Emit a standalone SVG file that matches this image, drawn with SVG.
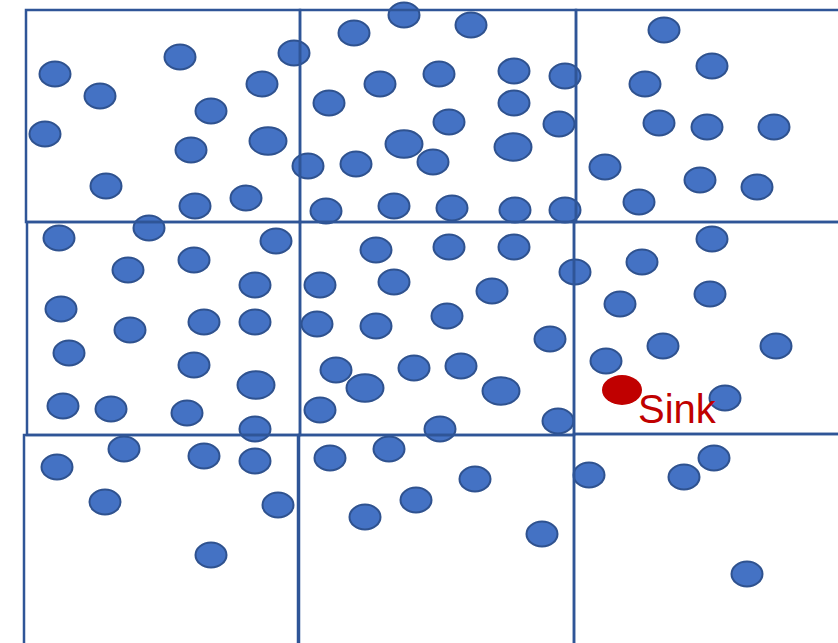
<svg xmlns="http://www.w3.org/2000/svg" width="838" height="643" viewBox="0 0 838 643">
<style>
.c{fill:#4472C4;stroke:#2F528F;stroke-width:2}
.g{fill:none;stroke:#2F5597;stroke-width:2.5}
.s{fill:#C00000}
.t{font-family:"Liberation Sans",Arial,sans-serif;font-size:40px;fill:#C00000}
</style>
<rect width="838" height="643" fill="#fff"/>
<g id="dots">
<ellipse class="c" cx="55" cy="74" rx="15.5" ry="12.5"/>
<ellipse class="c" cx="100" cy="96" rx="15.5" ry="12.5"/>
<ellipse class="c" cx="180" cy="57" rx="15.5" ry="12.5"/>
<ellipse class="c" cx="294" cy="53" rx="15.5" ry="12.5"/>
<ellipse class="c" cx="262" cy="84" rx="15.5" ry="12.5"/>
<ellipse class="c" cx="211" cy="111" rx="15.5" ry="12.5"/>
<ellipse class="c" cx="45" cy="134" rx="15.5" ry="12.5"/>
<ellipse class="c" cx="191" cy="150" rx="15.5" ry="12.5"/>
<ellipse class="c" cx="268" cy="141" rx="18.5" ry="13.7"/>
<ellipse class="c" cx="106" cy="186" rx="15.5" ry="12.5"/>
<ellipse class="c" cx="195" cy="206" rx="15.5" ry="12.5"/>
<ellipse class="c" cx="246" cy="198" rx="15.5" ry="12.5"/>
<ellipse class="c" cx="149" cy="228" rx="15.5" ry="12.5"/>
<ellipse class="c" cx="404" cy="15" rx="15.5" ry="12.5"/>
<ellipse class="c" cx="354" cy="33" rx="15.5" ry="12.5"/>
<ellipse class="c" cx="471" cy="25" rx="15.5" ry="12.5"/>
<ellipse class="c" cx="439" cy="74" rx="15.5" ry="12.5"/>
<ellipse class="c" cx="514" cy="71" rx="15.5" ry="12.5"/>
<ellipse class="c" cx="565" cy="76" rx="15.5" ry="12.5"/>
<ellipse class="c" cx="380" cy="84" rx="15.5" ry="12.5"/>
<ellipse class="c" cx="329" cy="103" rx="15.5" ry="12.5"/>
<ellipse class="c" cx="514" cy="103" rx="15.5" ry="12.5"/>
<ellipse class="c" cx="449" cy="122" rx="15.5" ry="12.5"/>
<ellipse class="c" cx="559" cy="124" rx="15.5" ry="12.5"/>
<ellipse class="c" cx="404" cy="144" rx="18.5" ry="13.7"/>
<ellipse class="c" cx="513" cy="147" rx="18.5" ry="13.7"/>
<ellipse class="c" cx="308" cy="166" rx="15.5" ry="12.5"/>
<ellipse class="c" cx="356" cy="164" rx="15.5" ry="12.5"/>
<ellipse class="c" cx="433" cy="162" rx="15.5" ry="12.5"/>
<ellipse class="c" cx="326" cy="211" rx="15.5" ry="12.5"/>
<ellipse class="c" cx="394" cy="206" rx="15.5" ry="12.5"/>
<ellipse class="c" cx="452" cy="208" rx="15.5" ry="12.5"/>
<ellipse class="c" cx="515" cy="210" rx="15.5" ry="12.5"/>
<ellipse class="c" cx="565" cy="210" rx="15.5" ry="12.5"/>
<ellipse class="c" cx="664" cy="30" rx="15.5" ry="12.5"/>
<ellipse class="c" cx="712" cy="66" rx="15.5" ry="12.5"/>
<ellipse class="c" cx="645" cy="84" rx="15.5" ry="12.5"/>
<ellipse class="c" cx="659" cy="123" rx="15.5" ry="12.5"/>
<ellipse class="c" cx="707" cy="127" rx="15.5" ry="12.5"/>
<ellipse class="c" cx="774" cy="127" rx="15.5" ry="12.5"/>
<ellipse class="c" cx="605" cy="167" rx="15.5" ry="12.5"/>
<ellipse class="c" cx="700" cy="180" rx="15.5" ry="12.5"/>
<ellipse class="c" cx="757" cy="187" rx="15.5" ry="12.5"/>
<ellipse class="c" cx="639" cy="202" rx="15.5" ry="12.5"/>
<ellipse class="c" cx="59" cy="238" rx="15.5" ry="12.5"/>
<ellipse class="c" cx="276" cy="241" rx="15.5" ry="12.5"/>
<ellipse class="c" cx="128" cy="270" rx="15.5" ry="12.5"/>
<ellipse class="c" cx="194" cy="260" rx="15.5" ry="12.5"/>
<ellipse class="c" cx="255" cy="285" rx="15.5" ry="12.5"/>
<ellipse class="c" cx="61" cy="309" rx="15.5" ry="12.5"/>
<ellipse class="c" cx="130" cy="330" rx="15.5" ry="12.5"/>
<ellipse class="c" cx="204" cy="322" rx="15.5" ry="12.5"/>
<ellipse class="c" cx="255" cy="322" rx="15.5" ry="12.5"/>
<ellipse class="c" cx="69" cy="353" rx="15.5" ry="12.5"/>
<ellipse class="c" cx="194" cy="365" rx="15.5" ry="12.5"/>
<ellipse class="c" cx="256" cy="385" rx="18.5" ry="13.7"/>
<ellipse class="c" cx="63" cy="406" rx="15.5" ry="12.5"/>
<ellipse class="c" cx="111" cy="409" rx="15.5" ry="12.5"/>
<ellipse class="c" cx="187" cy="413" rx="15.5" ry="12.5"/>
<ellipse class="c" cx="255" cy="429" rx="15.5" ry="12.5"/>
<ellipse class="c" cx="376" cy="250" rx="15.5" ry="12.5"/>
<ellipse class="c" cx="449" cy="247" rx="15.5" ry="12.5"/>
<ellipse class="c" cx="514" cy="247" rx="15.5" ry="12.5"/>
<ellipse class="c" cx="575" cy="272" rx="15.5" ry="12.5"/>
<ellipse class="c" cx="320" cy="285" rx="15.5" ry="12.5"/>
<ellipse class="c" cx="394" cy="282" rx="15.5" ry="12.5"/>
<ellipse class="c" cx="492" cy="291" rx="15.5" ry="12.5"/>
<ellipse class="c" cx="317" cy="324" rx="15.5" ry="12.5"/>
<ellipse class="c" cx="376" cy="326" rx="15.5" ry="12.5"/>
<ellipse class="c" cx="447" cy="316" rx="15.5" ry="12.5"/>
<ellipse class="c" cx="550" cy="339" rx="15.5" ry="12.5"/>
<ellipse class="c" cx="336" cy="370" rx="15.5" ry="12.5"/>
<ellipse class="c" cx="414" cy="368" rx="15.5" ry="12.5"/>
<ellipse class="c" cx="461" cy="366" rx="15.5" ry="12.5"/>
<ellipse class="c" cx="365" cy="388" rx="18.5" ry="13.7"/>
<ellipse class="c" cx="501" cy="391" rx="18.5" ry="13.7"/>
<ellipse class="c" cx="320" cy="410" rx="15.5" ry="12.5"/>
<ellipse class="c" cx="440" cy="429" rx="15.5" ry="12.5"/>
<ellipse class="c" cx="558" cy="421" rx="15.5" ry="12.5"/>
<ellipse class="c" cx="712" cy="239" rx="15.5" ry="12.5"/>
<ellipse class="c" cx="642" cy="262" rx="15.5" ry="12.5"/>
<ellipse class="c" cx="710" cy="294" rx="15.5" ry="12.5"/>
<ellipse class="c" cx="620" cy="304" rx="15.5" ry="12.5"/>
<ellipse class="c" cx="663" cy="346" rx="15.5" ry="12.5"/>
<ellipse class="c" cx="776" cy="346" rx="15.5" ry="12.5"/>
<ellipse class="c" cx="606" cy="361" rx="15.5" ry="12.5"/>
<ellipse class="c" cx="725" cy="398" rx="15.5" ry="12.5"/>
<ellipse class="c" cx="57" cy="467" rx="15.5" ry="12.5"/>
<ellipse class="c" cx="124" cy="449" rx="15.5" ry="12.5"/>
<ellipse class="c" cx="204" cy="456" rx="15.5" ry="12.5"/>
<ellipse class="c" cx="255" cy="461" rx="15.5" ry="12.5"/>
<ellipse class="c" cx="105" cy="502" rx="15.5" ry="12.5"/>
<ellipse class="c" cx="278" cy="505" rx="15.5" ry="12.5"/>
<ellipse class="c" cx="211" cy="555" rx="15.5" ry="12.5"/>
<ellipse class="c" cx="330" cy="458" rx="15.5" ry="12.5"/>
<ellipse class="c" cx="389" cy="449" rx="15.5" ry="12.5"/>
<ellipse class="c" cx="475" cy="479" rx="15.5" ry="12.5"/>
<ellipse class="c" cx="416" cy="500" rx="15.5" ry="12.5"/>
<ellipse class="c" cx="365" cy="517" rx="15.5" ry="12.5"/>
<ellipse class="c" cx="542" cy="534" rx="15.5" ry="12.5"/>
<ellipse class="c" cx="589" cy="475" rx="15.5" ry="12.5"/>
<ellipse class="c" cx="684" cy="477" rx="15.5" ry="12.5"/>
<ellipse class="c" cx="714" cy="458" rx="15.5" ry="12.5"/>
<ellipse class="c" cx="747" cy="574" rx="15.5" ry="12.5"/>
</g>
<g id="grid">
<rect class="g" x="26" y="10" width="274" height="212"/>
<rect class="g" x="300" y="10" width="276" height="212"/>
<rect class="g" x="576" y="10" width="270" height="212"/>
<rect class="g" x="27" y="222" width="273" height="213"/>
<rect class="g" x="300" y="222" width="274" height="213"/>
<rect class="g" x="574" y="222" width="272" height="212"/>
<rect class="g" x="24" y="435" width="274" height="220"/>
<rect class="g" x="299" y="435" width="275" height="220"/>
<rect class="g" x="574" y="434" width="272" height="221"/>
</g>
<g id="sink">
<ellipse class="s" cx="622" cy="390" rx="20" ry="15"/>
<text class="t" x="638" y="423">Sink</text>
</g>
</svg>
